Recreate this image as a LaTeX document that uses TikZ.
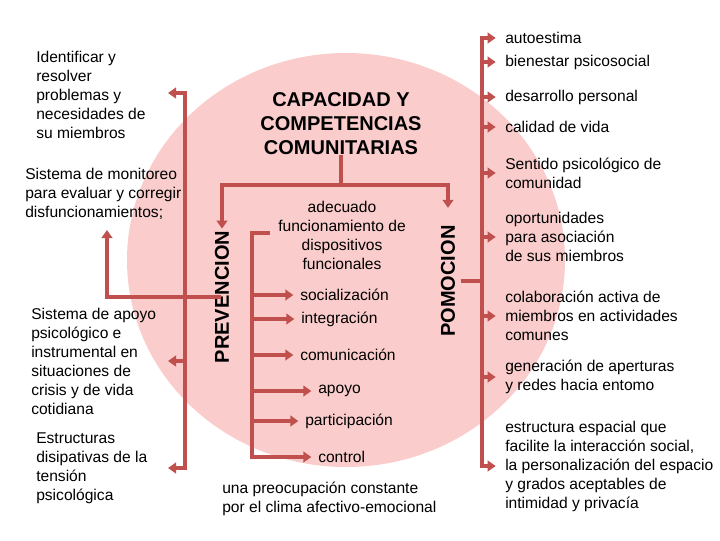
\documentclass[tikz,border=0pt]{standalone}
\usepackage{fontspec}
\setmainfont{Liberation Sans}
\usetikzlibrary{arrows.meta}
\definecolor{pinkfill}{RGB}{250,204,204}
\definecolor{linered}{RGB}{192,80,77}
\begin{document}
\begin{tikzpicture}[x=0.75pt,y=-0.75pt,
  conn/.style={draw=linered,line width=3pt,line join=miter},
  arr/.style={conn,-{Triangle[length=6pt,width=8pt]}},
  arrboth/.style={conn,{Triangle[length=6pt,width=8pt]}-{Triangle[length=6pt,width=8pt]}},
  lbl/.style={inner sep=0pt,font=\fontsize{11.7}{14.25}\selectfont,align=left,anchor=west},
  head/.style={inner sep=0pt,font=\fontsize{15}{18}\selectfont\bfseries,align=center}]
\useasboundingbox (0,0) rectangle (720,540);
\fill[pinkfill] (346,260) ellipse [x radius=219, y radius=207];

% headings
\node[head] (cap) at (341,124) {CAPACIDAD Y\\COMPETENCIAS\\COMUNITARIAS};
\node[head,rotate=90] (prev) at (222,297) {PREVENCION};
\node[head,rotate=90] (pom) at (448,281) {POMOCION};

% left texts
\node[lbl] (ident) at (36,95) {Identificar y\\resolver\\problemas y\\necesidades de\\su miembros};
\node[lbl] (monit) at (25,194) {Sistema de monitoreo\\para evaluar y corregir\\disfuncionamientos;};
\node[lbl] (apoyol) at (31,361) {Sistema de apoyo\\psicológico e\\instrumental en\\situaciones de\\crisis y de vida\\cotidiana};
\node[lbl] (estruct) at (36,468) {Estructuras\\disipativas de la\\tensión\\psicológica};

% inner texts
\node[inner sep=0pt,font=\fontsize{11.7}{14.25}\selectfont,align=center] (adec) at (342,235) {adecuado\\funcionamiento de\\dispositivos\\funcionales};
\node[lbl] (soc) at (300,295) {socialización};
\node[lbl] (integ) at (301,319) {integración};
\node[lbl] (comun) at (300,355) {comunicación};
\node[lbl] (apoyo) at (318,391) {apoyo};
\node[lbl] (partic) at (305,421) {participación};
\node[lbl] (control) at (318,457) {control};
\node[lbl] (preoc) at (222,499) {una preocupación constante\\por el clima afectivo-emocional};

% right texts
\node[lbl] (r1) at (505,38) {autoestima};
\node[lbl] (r2) at (505,62) {bienestar psicosocial};
\node[lbl] (r3) at (505,97) {desarrollo personal};
\node[lbl] (r4) at (505,127) {calidad de vida};
\node[lbl] (r5) at (505,173) {Sentido psicológico de\\comunidad};
\node[lbl] (r6) at (505,237) {oportunidades\\para asociación\\de sus miembros};
\node[lbl] (r7) at (505,316) {colaboración activa de\\miembros en actividades\\comunes};
\node[lbl] (r8) at (505,377) {generación de aperturas\\y redes hacia entomo};
\node[lbl] (r9) at (505,466) {estructura espacial que\\facilite la interacción social,\\la personalización del espacio\\y grados aceptables de\\intimidad y privacía};

% coordinates
\coordinate (j) at (341,185);
\coordinate (lt) at (185,93);
\coordinate (lb) at (185,468);
\coordinate (ta) at (168,93);
\coordinate (tb) at (168,468);
\coordinate (tm) at (168,361);
\coordinate (monittip) at (107,230);
\coordinate (rt) at (482,0);
\coordinate (ic) at (270,233);
\coordinate (it) at (252,233);

% top split
\draw[conn] (cap.south) -- (j);
\draw[arr,shorten >=1.5pt] (j) -| (prev.east);
\draw[arr,shorten >=13pt] (j) -| (pom.east);

% left trunk
\draw[arrboth] (ta) -- (lt) -- (lb) -- (tb);
\draw[arr] (lt |- tm) -- (tm);
\draw[arr,shorten <=6pt] (prev.south) -| (monittip);

% inner trunk
\draw[arr,shorten >=5pt] (ic) -- (it) |- (control.west);
\foreach \n in {soc,integ,comun,apoyo,partic}
  \draw[arr,shorten >=5pt] (\n.west -| it) -- (\n.west);

% right trunk
\draw[arrboth,shorten <=7pt,shorten >=7pt] (r1.west) -- (r1.west -| rt) -- (r9.west -| rt) -- (r9.west);
\foreach \n in {r2,r3,r4,r5,r6,r7,r8}
  \draw[arr,shorten >=7pt] (\n.west -| rt) -- (\n.west);
\draw[conn,shorten <=4pt] (pom.south) -- (pom.south -| rt);
\end{tikzpicture}
\end{document}
